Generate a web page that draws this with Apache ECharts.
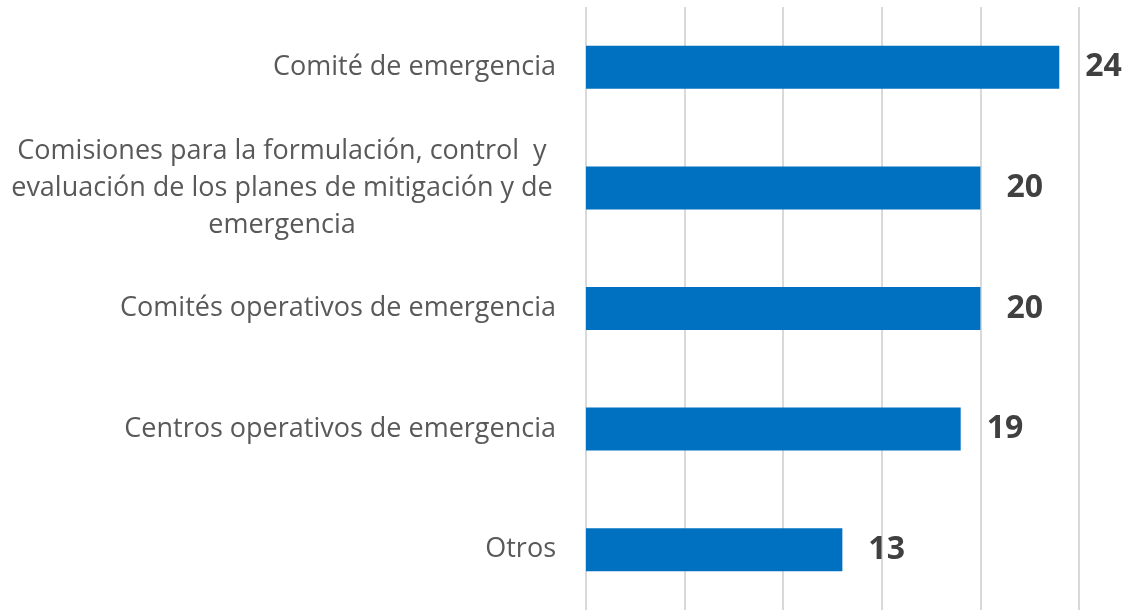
<!DOCTYPE html>
<html>
<head>
<meta charset="utf-8">
<script src="https://cdn.jsdelivr.net/npm/echarts@6/dist/echarts.min.js"></script>
<style>
  html, body { margin: 0; padding: 0; background: #fff; }
  #chart { width: 1122px; height: 611px; }
</style>
</head>
<body>
<div id="chart"></div>
<script>
// categories, bottom to top (category axis on y starts at the bottom)
var categories = [
    'Otros',
    'Centros operativos de emergencia',
    'Comités operativos de emergencia',
    'Comisiones para la formulación, control  y\nevaluación de los planes de mitigación y de\nemergencia',
    'Comité de emergencia'
];
var values = [13, 19, 20, 20, 24];

var xMin = 0, xMax = 25, xStep = 5;

var labelFont = '"Open Sans", sans-serif';

var myChart = echarts.init(document.getElementById('chart'));
var option = {
    animation: false,
    grid: { left: 586, right: 43, top: 7, bottom: 1, containLabel: false },
    xAxis: {
        type: 'value',
        min: xMin,
        max: xMax,
        interval: xStep,
        axisLabel: { show: false },
        axisLine: { show: false },
        axisTick: { show: false },
        splitLine: { show: true, lineStyle: { color: '#d9d9d9', width: 2 } }
    },
    yAxis: {
        type: 'category',
        data: categories,
        axisLine: { show: false },
        axisTick: { show: false },
        axisLabel: {
            margin: 30,
            color: '#595959',
            fontFamily: labelFont,
            fontSize: 27,
            lineHeight: 37,
            formatter: function (v) {
                if (v.indexOf('\n') >= 0) return '{c|' + v + '}';
                return v;
            },
            rich: {
                c: {
                    width: 548,
                    align: 'center',
                    color: '#595959',
                    fontFamily: labelFont,
                    fontSize: 27,
                    lineHeight: 37
                }
            }
        }
    },
    series: [{
        type: 'bar',
        data: values,
        barWidth: 43,
        itemStyle: { color: '#0070c0' },
        label: {
            show: true,
            position: 'right',
            distance: 26,
            color: '#404040',
            fontWeight: 'bold',
            fontSize: 32,
            fontFamily: labelFont
        }
    }]
};
myChart.setOption(option);
</script>
</body>
</html>
